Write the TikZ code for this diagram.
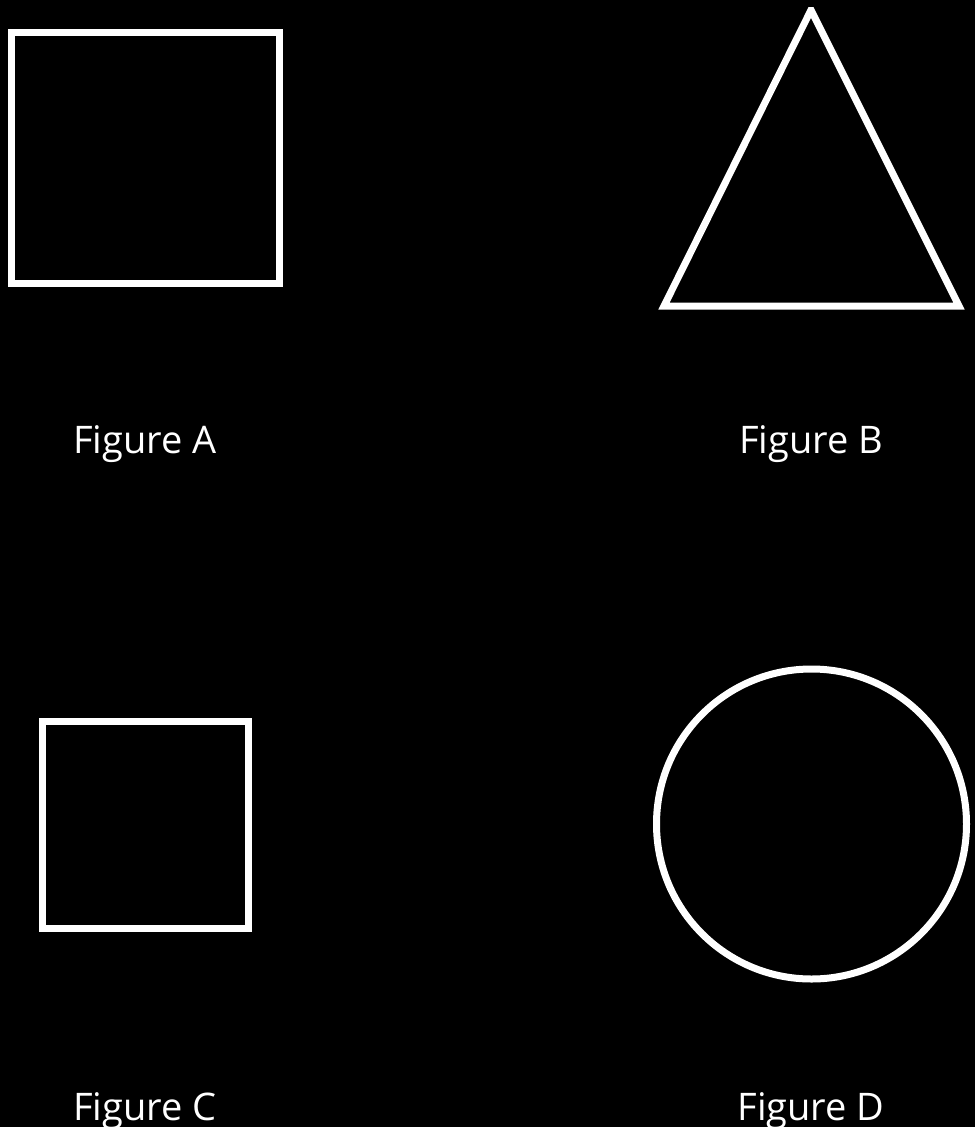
\documentclass[tikz,border=0pt]{standalone}
\usepackage{fontspec}
\setmainfont{Open Sans}
\begin{document}
\begin{tikzpicture}[x=1pt,y=-1pt,
  figline/.style={draw=white,line width=7pt},
  lbl/.style={text=white,font=\fontsize{38}{44}\selectfont,anchor=base,inner sep=0pt}]
\fill[black] (0,0) rectangle (975,1127);
\useasboundingbox (0,0) rectangle (975,1127);
% Figure A
\draw[figline] (11,32) rectangle (279,283);
% Figure B
\coordinate (bt) at (811,10);
\coordinate (bl) at (664,306);
\coordinate (br) at (959,306);
\begin{scope}
\clip (0,7) rectangle (975,1127);
\draw[figline,line join=miter] (bt) -- (bl) -- (br) -- cycle;
\end{scope}
% Figure C
\draw[figline] (42,721) rectangle (248,928);
% Figure D
\draw[figline] (811.5,824) circle[radius=155];
% labels
\node[lbl] (la) at (145,453) {Figure A};
\node[lbl] (lb) at (811,453) {Figure B};
\node[lbl] (lc) at (145,1120) {Figure C};
\node[lbl] (ld) at (811,1120) {Figure D};
\end{tikzpicture}
\end{document}
